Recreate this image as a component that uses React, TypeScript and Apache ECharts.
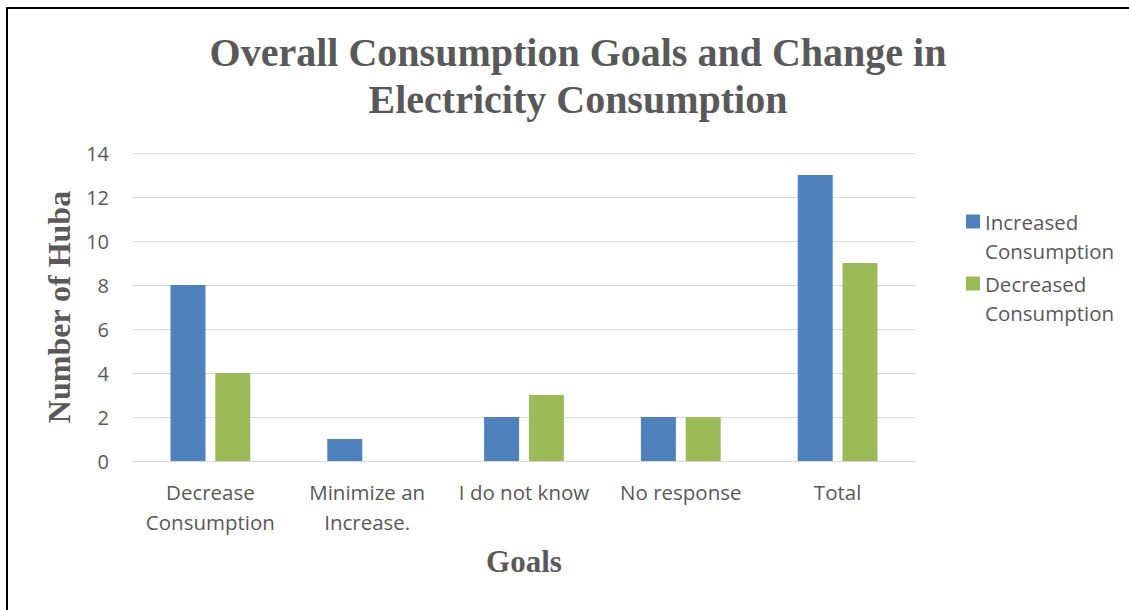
import React, { useEffect, useRef } from "react";
import * as echarts from "echarts";

const categories = [
  "Decrease\nConsumption",
  "Minimize an\nIncrease.",
  "I do not know",
  "No response",
  "Total",
];
const increased = [8, 1, 2, 2, 13];
const decreased = [4, 0, 3, 2, 9];
const seriesNames = ["Increased Consumption", "Decreased Consumption"];
const seriesColors = ["#4F81BD", "#9BBB59"];

const TEXT = "#595959";
const SANS = "'Open Sans', 'Noto Sans', sans-serif";
const SERIF = "'Liberation Serif', 'Times New Roman', serif";

// One legend block per series, icon beside the first line of a wrapped name.
const legendBlock = (name: string, top: number) => ({
  orient: "vertical",
  left: 966,
  top,
  padding: 0,
  itemWidth: 14,
  itemHeight: 14,
  icon: "rect",
  data: [name],
  formatter: (n: string) => " \n" + n.replace(" ", "\n"),
  textStyle: {
    fontFamily: SANS,
    fontSize: 20.5,
    lineHeight: 29,
    color: TEXT,
  },
});

export default function App() {
  const ref = useRef<HTMLDivElement>(null);

  useEffect(() => {
    if (!ref.current) return;
    const chart = echarts.init(ref.current, null, { renderer: "svg" });
    chart.setOption({
      animation: false,
      backgroundColor: "#ffffff",
      title: {
        text: "Overall Consumption Goals and Change in\nElectricity Consumption",
        left: 573,
        top: 24,
        textAlign: "center",
        textStyle: {
          fontFamily: SERIF,
          fontWeight: "bold",
          fontSize: 40,
          lineHeight: 47,
          color: TEXT,
        },
      },
      legend: [legendBlock(seriesNames[0], 178), legendBlock(seriesNames[1], 240)],
      grid: { left: 132, top: 153, width: 784, height: 308, containLabel: false },
      xAxis: {
        type: "category",
        data: categories,
        name: "Goals",
        nameLocation: "middle",
        nameGap: 85,
        nameTextStyle: {
          fontFamily: SERIF,
          fontWeight: "bold",
          fontSize: 31,
          color: TEXT,
        },
        axisLine: { lineStyle: { color: "#D9D9D9", width: 1 } },
        axisTick: { show: false },
        axisLabel: {
          interval: 0,
          margin: 16,
          fontFamily: SANS,
          fontSize: 20.5,
          lineHeight: 30,
          color: TEXT,
          verticalAlign: "top",
        },
      },
      yAxis: {
        type: "value",
        min: 0,
        max: 14,
        interval: 2,
        name: "Number of Huba",
        nameLocation: "middle",
        nameRotate: 90,
        nameGap: 57,
        nameTextStyle: {
          fontFamily: SERIF,
          fontWeight: "bold",
          fontSize: 32,
          color: TEXT,
        },
        axisLine: { show: false },
        axisTick: { show: false },
        splitLine: { lineStyle: { color: "#D9D9D9", width: 1 } },
        axisLabel: {
          margin: 23,
          fontFamily: SANS,
          fontSize: 20,
          color: TEXT,
        },
      },
      series: [
        {
          name: seriesNames[0],
          type: "bar",
          data: increased,
          itemStyle: { color: seriesColors[0] },
          barWidth: 35,
          barGap: "28%",
        },
        {
          name: seriesNames[1],
          type: "bar",
          data: decreased,
          itemStyle: { color: seriesColors[1] },
          barWidth: 35,
          barGap: "28%",
        },
      ],
      graphic: [
        {
          type: "line",
          shape: { x1: 6, y1: 8, x2: 1129, y2: 8 },
          style: { stroke: "#000000", lineWidth: 2 },
        },
        {
          type: "line",
          shape: { x1: 7, y1: 7, x2: 7, y2: 610 },
          style: { stroke: "#000000", lineWidth: 2 },
        },
      ],
    });
    return () => chart.dispose();
  }, []);

  return (
    <div
      ref={ref}
      style={{ position: "fixed", left: 0, top: 0, width: 1129, height: 610 }}
    />
  );
}
